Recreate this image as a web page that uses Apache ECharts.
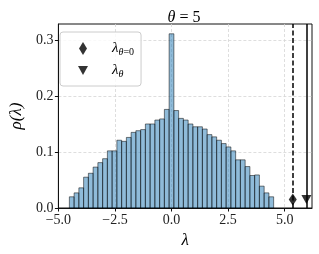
<!DOCTYPE html>
<html>
<head>
<meta charset="utf-8">
<script src="https://cdn.jsdelivr.net/npm/echarts@6/dist/echarts.min.js"></script>
<style>html,body{margin:0;padding:0;background:#fff}#c{width:319px;height:254px}</style>
</head>
<body>
<div id="c"></div>
<script>
// histogram data
const binStart = -4.515;
const binWidth = 0.21;
const density = [0.020,0.027,0.036,0.055,0.062,0.073,0.081,0.088,0.102,0.102,
  0.121,0.119,0.126,0.135,0.138,0.140,0.150,0.150,0.157,0.159,0.176,
  0.311,
  0.174,0.160,0.157,0.150,0.145,0.145,0.141,0.131,0.127,0.121,
  0.115,0.109,0.102,0.086,0.086,0.074,0.058,0.059,0.039,0.027,0.020];
// eigenvalue markers
const lambdaTheta0 = 5.36;
const lambdaTheta = 5.963;
const markerY = 0.015;
const xTicks = [-5.0, -2.5, 0.0, 2.5, 5.0];
const yTicks = [0.0, 0.1, 0.2, 0.3];
const nameL0 = 'λ_θ=0';
const nameL1 = 'λ_θ';

const histData = density.map((h, i) => [binStart + i * binWidth, binStart + (i + 1) * binWidth, h]);
const serif = 'Liberation Serif';
const fmt = v => (v < 0 ? '\u2212' : '') + Math.abs(v).toFixed(1);

const chart = echarts.init(document.getElementById('c'), null, {renderer: 'canvas'});
chart.setOption({
  animation: false,
  backgroundColor: '#fff',
  title: {
    text: '{i|θ} = 5',
    left: 179, top: 5, textAlign: 'center',
    textStyle: {fontFamily: serif, fontSize: 16, fontWeight: 'normal', color: '#000',
      rich: {i: {fontFamily: serif, fontStyle: 'italic', fontSize: 16, color: '#000'}}}
  },
  grid: {left: 52, right: 7, top: 24, bottom: 46, show: true, borderColor: '#111', borderWidth: 1, backgroundColor: 'transparent'},
  xAxis: {
    type: 'value', min: -5, max: 6.21, interval: 2.5,
    name: 'λ', nameLocation: 'middle', nameGap: 24,
    nameTextStyle: {fontFamily: serif, fontStyle: 'italic', fontSize: 17, color: '#000'},
    axisLine: {show: true, onZero: false, lineStyle: {color: '#111', width: 1}},
    axisTick: {show: true, length: 3.5, lineStyle: {color: '#111'}, customValues: xTicks},
    axisLabel: {fontFamily: serif, fontSize: 14, color: '#222', margin: 5, formatter: fmt, customValues: xTicks},
    splitLine: {show: true, lineStyle: {color: '#d6d6d6', type: [3, 2], width: 0.8}}
  },
  yAxis: {
    type: 'value', min: 0, max: 0.3285, interval: 0.1,
    name: 'ρ(λ)', nameLocation: 'middle', nameGap: 30, nameRotate: 90,
    nameTextStyle: {fontFamily: serif, fontStyle: 'italic', fontSize: 17, color: '#000'},
    axisLine: {show: true, onZero: false, lineStyle: {color: '#111', width: 1}},
    axisTick: {show: true, length: 3.5, lineStyle: {color: '#111'}, customValues: yTicks},
    axisLabel: {fontFamily: serif, fontSize: 14, color: '#222', margin: 5, formatter: fmt, customValues: yTicks},
    splitLine: {show: true, lineStyle: {color: '#d6d6d6', type: [3, 2], width: 0.8}}
  },
  legend: {
    orient: 'vertical', left: 60, top: 32,
    itemWidth: 10, itemHeight: 13, itemGap: 6,
    padding: [9, 7, 7, 18],
    backgroundColor: 'rgba(255,255,255,0.8)', borderColor: '#cccccc', borderWidth: 1, borderRadius: 3,
    data: [
      {name: nameL0, icon: 'path://M4,0L8,6.5L4,13L0,6.5Z'},
      {name: nameL1, icon: 'path://M0,0L10,0L5,9Z'}
    ],
    formatter: n => n === nameL0 ? '{l|λ}{s|θ}{t|=0}' : '{l|λ}{s|θ}',
    textStyle: {
      padding: [0, 0, 0, 19], color: '#000',
      rich: {
        l: {fontFamily: serif, fontStyle: 'italic', fontSize: 15, color: '#000'},
        s: {fontFamily: serif, fontStyle: 'italic', fontSize: 10, color: '#000', padding: [7, 0, 0, 0]},
        t: {fontFamily: serif, fontSize: 10, color: '#000', padding: [7, 0, 0, 0]}
      }
    }
  },
  series: [
    {
      type: 'custom', name: 'hist', data: histData, encode: {x: [0, 1], y: 2}, z: 2,
      renderItem: (params, api) => {
        const p0 = api.coord([api.value(0), api.value(2)]);
        const p1 = api.coord([api.value(1), 0]);
        return {type: 'rect', shape: {x: p0[0], y: p0[1], width: p1[0] - p0[0], height: p1[1] - p0[1]},
          style: {fill: 'rgba(31,119,180,0.5)', stroke: 'rgba(0,0,0,0.5)', lineWidth: 1}};
      }
    },
    {
      type: 'scatter', name: nameL0, data: [[lambdaTheta0, markerY]],
      symbol: 'diamond', symbolSize: [8, 12], itemStyle: {color: '#000'}, z: 5,
      markLine: {silent: true, symbol: 'none', label: {show: false},
        lineStyle: {color: '#000', width: 1.5, type: [5, 2.5]}, data: [{xAxis: lambdaTheta0}]}
    },
    {
      type: 'scatter', name: nameL1, data: [[lambdaTheta, markerY]],
      symbol: 'triangle', symbolRotate: 180, symbolSize: [10, 9], itemStyle: {color: '#000'}, z: 5,
      markLine: {silent: true, symbol: 'none', label: {show: false},
        lineStyle: {color: '#000', width: 1.5, type: 'solid'}, data: [{xAxis: lambdaTheta}]}
    }
  ]
});
</script>
</body>
</html>
